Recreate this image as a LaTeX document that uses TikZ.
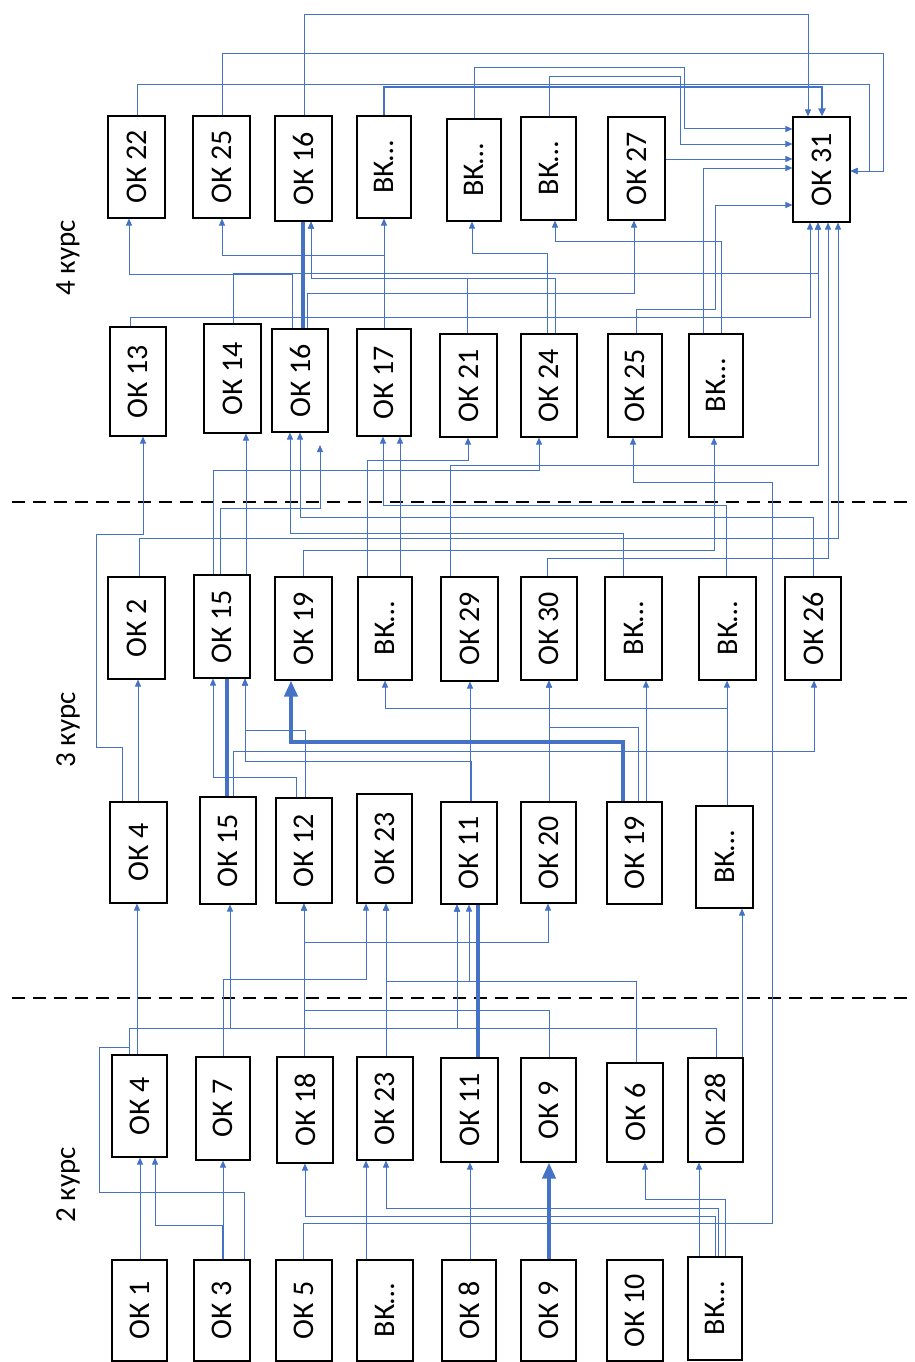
\documentclass[tikz,border=0pt]{standalone}
\usepackage{fontspec}
\setmainfont{Carlito}
\usetikzlibrary{arrows.meta}
\definecolor{lb}{HTML}{4472C4}
\newcommand{\mybox}[6]{\node[box,minimum width={#3-#2},minimum height={#5-#4}] (#1) at ({(#2+#3)/2},{(#4+#5)/2}) {\rotatebox{90}{#6}};}
\tikzset{
  box/.style={draw=black,line width=1.1pt,fill=white,inner sep=0pt,font=\fontsize{30}{32}\selectfont},
  lbl/.style={inner sep=0pt,font=\fontsize{29}{31}\selectfont},
  ln/.style={draw=lb,line width=1pt},
  ar/.style={ln,-{Triangle[length=7pt,width=6pt]}},
  thk/.style={draw=lb,line width=4.5pt},
  thkar/.style={thk,-{Triangle[length=16pt,width=13pt]}},
  mid/.style={draw=lb,line width=2pt,-{Triangle[length=8pt,width=7pt]}},
  dsh/.style={draw=black,line width=2.2pt,dash pattern=on 13pt off 8pt}
}
\begin{document}
\begin{tikzpicture}[x=1pt,y=-1pt]
\useasboundingbox (0,0) rectangle (915,1362);
% dashed separators
\draw[dsh] (12,502) -- (915,502);
\draw[dsh] (12,998) -- (915,998);
% labels
\node[lbl] (l4) at (68,258) {\rotatebox{90}{4 курс}};
\node[lbl] (l3) at (68,730) {\rotatebox{90}{3 курс}};
\node[lbl] (l2) at (68,1185) {\rotatebox{90}{2 курс}};
% top row
\mybox{T1}{108}{165}{116}{218}{ОК 22}
\mybox{T2}{193}{250}{116}{218}{ОК 25}
\mybox{T3}{275}{332}{116}{221}{ОК 16}
\mybox{T4}{357}{411}{116}{218}{ВК…}
\mybox{T5}{447}{501}{119}{221}{ВК…}
\mybox{T6}{521}{576}{117}{220}{ВК…}
\mybox{T7}{608}{665}{117}{220}{ОК 27}
\mybox{T8}{793}{850}{117}{222}{ОК 31}
% 4 kurs lower row
\mybox{U1}{110}{166}{327}{436}{ОК 13}
\mybox{U2}{204}{261}{324}{433}{ОК 14}
\mybox{U3}{272}{328}{329}{432}{ОК 16}
\mybox{U4}{357}{411}{329}{436}{ОК 17}
\mybox{U5}{440}{497}{334}{437}{ОК 21}
\mybox{U6}{521}{577}{334}{437}{ОК 24}
\mybox{U7}{608}{662}{334}{437}{ОК 25}
\mybox{U8}{689}{743}{334}{437}{ВК…}
% 3 kurs upper row
\mybox{D1}{108}{165}{577}{679}{ОК 2}
\mybox{D2}{194}{250}{575}{678}{ОК 15}
\mybox{D3}{275}{332}{577}{680}{ОК 19}
\mybox{D4}{358}{412}{577}{680}{ВК…}
\mybox{D5}{441}{498}{577}{681}{ОК 29}
\mybox{D6}{521}{577}{577}{680}{ОК 30}
\mybox{D7}{605}{662}{577}{680}{ВК…}
\mybox{D8}{699}{756}{577}{680}{ВК…}
\mybox{D9}{785}{841}{577}{680}{ОК 26}
% 3 kurs lower row
\mybox{C1}{110}{167}{802}{903}{ОК 4}
\mybox{C2}{200}{256}{797}{904}{ОК 15}
\mybox{C3}{276}{332}{798}{903}{ОК 12}
\mybox{C4}{357}{412}{794}{903}{ОК 23}
\mybox{C5}{441}{497}{802}{904}{ОК 11}
\mybox{C6}{521}{576}{802}{903}{ОК 20}
\mybox{C7}{607}{662}{802}{904}{ОК 19}
\mybox{C8}{696}{753}{806}{908}{ВК…}
% 2 kurs upper row
\mybox{B1}{112}{167}{1055}{1157}{ОК 4}
\mybox{B2}{196}{250}{1057}{1160}{ОК 7}
\mybox{B3}{277}{333}{1057}{1163}{ОК 18}
\mybox{B4}{357}{413}{1057}{1160}{ОК 23}
\mybox{B5}{441}{498}{1058}{1162}{ОК 11}
\mybox{B6}{521}{576}{1058}{1162}{ОК 9}
\mybox{B7}{607}{663}{1063}{1162}{ОК 6}
\mybox{B8}{688}{743}{1058}{1162}{ОК 28}
% 2 kurs lower row
\mybox{A1}{112}{167}{1260}{1361}{ОК 1}
\mybox{A2}{194}{250}{1260}{1361}{ОК 3}
\mybox{A3}{276}{332}{1260}{1361}{ОК 5}
\mybox{A4}{357}{413}{1260}{1361}{ВК…}
\mybox{A5}{442}{496}{1260}{1361}{ОК 8}
\mybox{A6}{521}{576}{1260}{1361}{ОК 9}
\mybox{A7}{607}{663}{1260}{1361}{ОК 10}
\mybox{A8}{688}{742}{1257}{1360}{ВК…}
\coordinate (u3x) at (320,445);
% ---- A -> B
\draw[ar] (A1.north -| 140,0) -- (B1.south -| 140,0);
\draw[ar] (A2.north -| 223,0) -- (B2.south -| 223,0);
\draw[ar] (A2.north -| 222,0) |- (155,1225) -- (B1.south -| 155,0);
\draw[ar] (A2.north -| 244,0) |- (99,1192) |- (129,1047) |- (230,1028) -- (C2.south -| 230,0);
\draw[ar] (B1.north -| 129,0) |- (457,1028) -- (C5.south -| 457,0);
\draw[ar] (B8.north -| 716,0) |- (457,1028) -- (C5.south -| 457,0);
\draw[ar] (A3.north -| 303,0) |- (772,1223) |- (633,482) -- (U7.south -| 633,0);
\draw[ar] (A8.north -| 715,0) |- (305,1216) -- (B3.south -| 305,0);
\draw[ar] (A4.north -| 366,0) -- (B4.south -| 366,0);
\draw[ar] (A8.north -| 718,0) |- (386,1208) -- (B4.south -| 386,0);
\draw[ar] (A5.north -| 470,0) -- (B5.south -| 470,0);
\draw[thkar] (A6.north -| 549,0) -- (B6.south -| 549,0);
\draw[ar] (A8.north -| 725,0) |- (645,1199) -- (B7.south -| 645,0);
\draw[ar] (A8.north -| 699,0) -- (B8.south -| 699,0);
% ---- B -> C
\draw[ar] (B1.north -| 137,0) -- (C1.south -| 137,0);
\draw[ar] (B2.north -| 223,0) |- (366,979) -- (C4.south -| 366,0);
\draw[ar] (B3.north -| 304,0) -- (C3.south -| 304,0);
\draw[ar] (B3.north -| 304,0) |- (548,942) -- (C6.south -| 548,0);
\draw[ar] (B6.north -| 549,0) |- (304,1010) -- (C3.south -| 304,0);
\draw[ar] (B4.north -| 386,0) -- (C4.south -| 386,0);
\draw[ar] (B7.north -| 636,0) |- (469,981) -- (C5.south -| 469,0);
\draw[ar] (B7.north -| 636,0) |- (386,981) -- (C4.south -| 386,0);
\draw[thk] (B5.north -| 478,0) -- (C5.south -| 478,0);
\draw[ar] (B8.north -| 742,0) -- (C8.south -| 742,0);
% ---- C -> D
\draw[ar] (C1.north -| 138,0) -- (D1.south -| 138,0);
\draw[ar] (C1.north -| 122,0) |- (96,747) |- (143,534) -- (U1.south -| 143,0);
\draw[thk] (C2.north -| 227,0) -- (D2.south -| 227,0);
\draw[ar] (C3.north -| 296,0) |- (213,777) -- (D2.south -| 213,0);
\draw[ar] (C3.north -| 305,0) |- (245,730) -- (D2.south -| 245,0);
\draw[ar] (C5.north -| 471,0) |- (245,761) -- (D2.south -| 245,0);
\draw[ar] (C5.north -| 470,0) -- (D5.south -| 470,0);
\draw[thkar] (C7.north -| 623,0) |- (291,742) -- (D3.south -| 291,0);
\draw[ar] (C8.north -| 727,0) |- (385,708) -- (D4.south -| 385,0);
\draw[ar] (C8.north -| 727,0) -- (D8.south -| 727,0);
\draw[ar] (C6.north -| 549,0) -- (D6.south -| 549,0);
\draw[ar] (C7.north -| 638,0) |- (549,727) -- (D6.south -| 549,0);
\draw[ar] (C7.north -| 646,0) -- (D7.south -| 646,0);
\draw[ar] (C2.north -| 233,0) |- (814,751) -- (D9.south -| 814,0);
% ---- D -> U / T8
\draw[ar] (D1.north -| 139,0) |- (838,538) -- (T8.south -| 838,0);
\draw[ar] (D2.north -| 213,0) |- (539,470) -- (U6.south -| 539,0);
\draw[ar] (D2.north -| 220,0) |- (320,508) -- (u3x);
\draw[ar] (D2.north -| 246,0) -- (U2.south -| 246,0);
\draw[ar] (D3.north -| 303,0) |- (714,550) -- (U8.south -| 714,0);
\draw[ar] (D4.north -| 400,0) -- (U4.south -| 400,0);
\draw[ar] (D4.north -| 367,0) |- (468,460) -- (U5.south -| 468,0);
\draw[ar] (D5.north -| 450,0) |- (818,465) -- (T8.south -| 818,0);
\draw[ar] (D6.north -| 547,0) |- (828,558) -- (T8.south -| 828,0);
\draw[ar] (D7.north -| 623,0) |- (290,533) -- (U3.south -| 290,0);
\draw[ar] (D8.north -| 726,0) |- (383,505) -- (U4.south -| 383,0);
\draw[ar] (D9.north -| 813,0) |- (300,517) -- (U3.south -| 300,0);
% ---- U -> T
\draw[ar] (U1.north -| 130,0) |- (810,317) -- (T8.south -| 810,0);
\draw[ar] (U2.north -| 233,0) |- (818,273) -- (T8.south -| 818,0);
\draw[ar] (U3.north -| 292,0) |- (129,274) -- (T1.south -| 129,0);
\draw[thk] (U3.north -| 303,0) -- (T3.south -| 303,0);
\draw[ar] (U3.north -| 307,0) |- (634,293) -- (T7.south -| 634,0);
\draw[ar] (U4.north -| 384,0) -- (T4.south -| 384,0);
\draw[ar] (U4.north -| 384,0) |- (222,255) -- (T2.south -| 222,0);
\draw[ar] (U5.north -| 467,0) |- (311,278) -- (T3.south -| 311,0);
\draw[ar] (U6.north -| 555,0) |- (311,278) -- (T3.south -| 311,0);
\draw[ar] (U6.north -| 547,0) |- (472,253) -- (T5.south -| 472,0);
\draw[ar] (U7.north -| 636,0) |- (715,309) |- (T8.west |- 0,205);
\draw[ar] (U8.north -| 703,0) |- (T8.west |- 0,168);
\draw[ar] (U8.north -| 721,0) |- (555,241) -- (T6.south -| 555,0);
% ---- top row -> OK 31
\draw[ar] (T3.north -| 304,0) |- (808,15) -- (T8.north -| 808,0);
\draw[ar] (T2.north -| 222,0) |- (883,54) |- (T8.east |- 0,171);
\draw[ar] (T1.north -| 137,0) |- (869,85) |- (T8.east |- 0,171);
\draw[mid] (T4.north -| 384,0) |- (822,87) -- (T8.north -| 822,0);
\draw[ar] (T5.north -| 474,0) |- (684,68) |- (T8.west |- 0,129);
\draw[ar] (T6.north -| 549,0) |- (680,77) |- (T8.west |- 0,144);
\draw[ar] (T7.east |- 0,159) -- (T8.west |- 0,159);
\end{tikzpicture}
\end{document}
